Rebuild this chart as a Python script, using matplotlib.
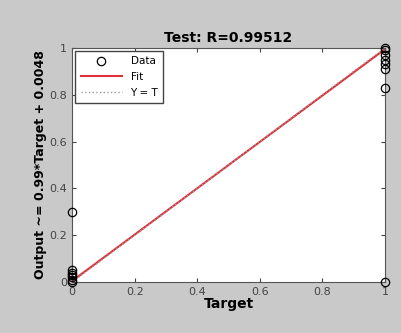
import matplotlib.pyplot as plt
import numpy as np

# regression data (test set)
target = [0, 0, 0, 0, 0, 0, 0, 1, 1, 1, 1, 1, 1, 1, 1]
output = [0.0, 0.01, 0.02, 0.03, 0.04, 0.05, 0.30,
          1.0, 0.99, 0.97, 0.95, 0.93, 0.91, 0.83, 0.0]
slope = 0.99
offset = 0.0048
r_value = 0.99512

ticks = [0, 0.2, 0.4, 0.6, 0.8, 1]
tick_labels = ["0", "0.2", "0.4", "0.6", "0.8", "1"]

fig = plt.figure(figsize=(4.01, 3.33), dpi=100)
fig.patch.set_facecolor("#c9c9c9")
ax = fig.add_axes([0.18, 0.153, 0.78, 0.703])
ax.set_facecolor("white")

line_x = np.array([0, 1])
ax.plot(target, output, "o", mfc="none", mec="black", ms=6, mew=0.9,
        label="Data", clip_on=False, zorder=4)
ax.plot(line_x, slope * line_x + offset, color="#e0303a", lw=1.5, label="Fit")
ax.plot(line_x, line_x, ":", color="#999999", lw=1, label="Y = T")

ax.set_xlim(0, 1)
ax.set_ylim(0, 1)
ax.set_xticks(ticks)
ax.set_xticklabels(tick_labels)
ax.set_yticks(ticks)
ax.set_yticklabels(tick_labels)
ax.tick_params(direction="in", top=True, right=True, labelsize=8, colors="#444444", length=3)
for s in ax.spines.values():
    s.set_color("#555555")

ax.set_title("Test: R=%.5f" % r_value, fontsize=10, fontweight="bold", pad=4)
ax.set_xlabel("Target", fontsize=10, fontweight="bold", labelpad=0)
ax.set_ylabel("Output ~= %.2g*Target + %.4f" % (slope, offset), fontsize=9, fontweight="bold", labelpad=2)

leg = ax.legend(loc="upper left", fontsize=7.5, fancybox=False, edgecolor="#444444",
                framealpha=1, borderpad=0.5, handlelength=4, labelspacing=0.55,
                borderaxespad=0.3)

fig.savefig("out.png", dpi=100, facecolor=fig.get_facecolor())
